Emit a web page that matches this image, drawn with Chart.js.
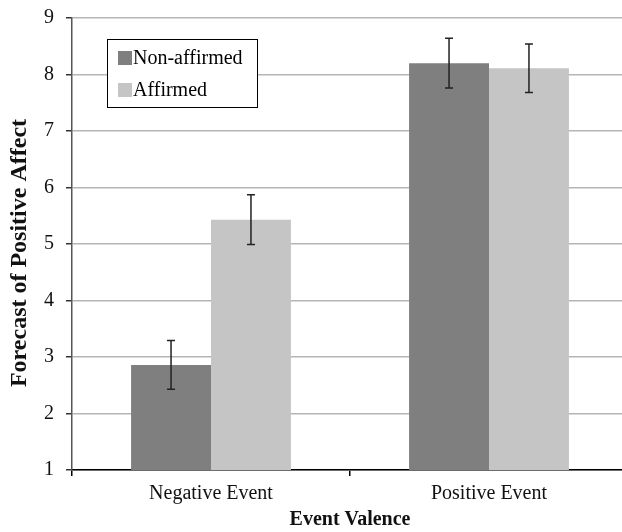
<!DOCTYPE html>
<html>
<head>
<meta charset="utf-8">
<script src="https://cdn.jsdelivr.net/npm/chart.js@4"></script>
<style>
  html, body { margin: 0; padding: 0; background: #fff; overflow: hidden; }
  #wrap { width: 628px; height: 538px; margin-top: -6px; position: relative; }
</style>
</head>
<body>
<div id="wrap"><canvas id="chart"></canvas></div>
<script>
// data
const categories = ['Negative Event', 'Positive Event'];
const seriesNames = ['Non-affirmed', 'Affirmed'];
const nonAffirmed = [2.86, 8.20];
const affirmed = [5.43, 8.11];
const nonAffirmedErr = [0.43, 0.44];
const affirmedErr = [0.44, 0.43];
const yTicks = [1, 2, 3, 4, 5, 6, 7, 8, 9];

const serif = "'Liberation Serif', 'Times New Roman', serif";

// error bars drawn through the scales
const errorBars = {
    id: 'errorBars',
    afterDatasetsDraw(chart) {
        const ctx = chart.ctx;
        const y = chart.scales.y;
        const errs = [nonAffirmedErr, affirmedErr];
        chart.data.datasets.forEach((ds, di) => {
            const meta = chart.getDatasetMeta(di);
            meta.data.forEach((bar, i) => {
                const v = ds.data[i];
                const top = y.getPixelForValue(v + errs[di][i]);
                const bot = y.getPixelForValue(v - errs[di][i]);
                ctx.save();
                ctx.strokeStyle = '#222';
                ctx.lineWidth = 1.5;
                ctx.beginPath();
                ctx.moveTo(bar.x, top); ctx.lineTo(bar.x, bot);
                ctx.moveTo(bar.x - 4, top); ctx.lineTo(bar.x + 4, top);
                ctx.moveTo(bar.x - 4, bot); ctx.lineTo(bar.x + 4, bot);
                ctx.stroke();
                ctx.restore();
            });
        });
    }
};

// boxed legend inside the plot area
const boxLegend = {
    id: 'boxLegend',
    afterDraw(chart) {
        const ctx = chart.ctx;
        const a = chart.chartArea;
        const x0 = a.left + 35, y0 = a.top + 21, w = 150, h = 68;
        ctx.save();
        ctx.fillStyle = '#fff';
        ctx.fillRect(x0, y0, w, h);
        ctx.strokeStyle = '#000';
        ctx.lineWidth = 1;
        ctx.strokeRect(x0 + 0.5, y0 + 0.5, w, h);
        ctx.font = '20px ' + serif;
        ctx.textBaseline = 'middle';
        chart.data.datasets.forEach((ds, i) => {
            const cy = y0 + 19 + i * 32;
            ctx.fillStyle = ds.backgroundColor;
            ctx.fillRect(x0 + 11, cy - 7, 14, 14);
            ctx.fillStyle = '#000';
            ctx.fillText(ds.label, x0 + 26, cy + 1);
        });
        ctx.restore();
    }
};

new Chart(document.getElementById('chart'), {
    type: 'bar',
    data: {
        labels: categories,
        datasets: [
            { label: seriesNames[0], data: nonAffirmed, backgroundColor: '#7f7f7f' },
            { label: seriesNames[1], data: affirmed, backgroundColor: '#c4c5c4' }
        ]
    },
    options: {
        responsive: true,
        maintainAspectRatio: false,
        animation: false,
        layout: { padding: { top: 3, left: 4, right: 0, bottom: 0 } },
        datasets: { bar: { categoryPercentage: 0.575, barPercentage: 1 } },
        plugins: { legend: { display: false }, tooltip: { enabled: false } },
        scales: {
            x: {
                grid: { offset: true, drawOnChartArea: false, drawTicks: true, tickLength: 6, tickColor: '#000', lineWidth: 1.5 },
                border: { color: '#000', width: 1.5 },
                ticks: { font: { family: serif, size: 20 }, color: '#111', padding: 6 },
                title: { display: true, text: 'Event Valence', font: { family: serif, size: 20, weight: 'bold' }, color: '#111', padding: { top: 0, bottom: 0 } },
                afterFit(s) { s.height = 62; }
            },
            y: {
                min: 1, max: 9,
                afterBuildTicks(s) { s.ticks = yTicks.map(v => ({ value: v })); },
                grid: { color: '#b5b5b5', lineWidth: 1.5, tickLength: 6, tickColor: '#333' },
                border: { color: '#555', width: 1.5 },
                ticks: { font: { family: serif, size: 20 }, color: '#111', padding: 12 },
                // trailing spaces nudge the rotated title down to sit like the original
                title: { display: true, text: 'Forecast of Positive Affect   ', font: { family: serif, size: 24, weight: 'bold' }, color: '#111', padding: { top: 1, bottom: 0 } },
                afterFit(s) { s.width = 68; }
            }
        }
    },
    plugins: [errorBars, boxLegend]
});
</script>
</body>
</html>
